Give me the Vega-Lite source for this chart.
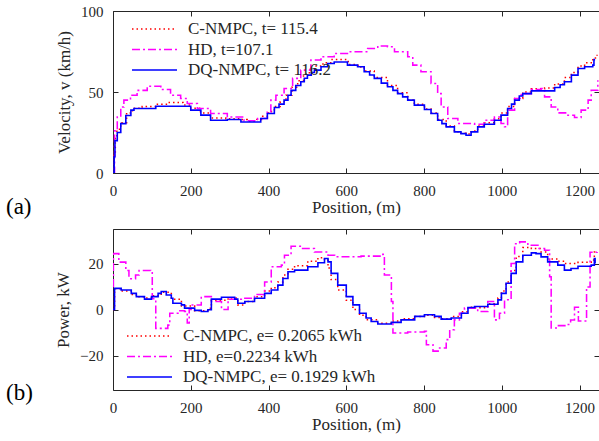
{
  "$schema": "https://vega.github.io/schema/vega-lite/v6.json",
  "padding": {"left": 5, "top": 3, "right": 1, "bottom": 2},
  "background": "white",
  "config": {
    "font": "Liberation Serif",
    "view": {"stroke": "#262626", "strokeWidth": 1},
    "style": {"guide-label": {"font": "Liberation Serif", "fontSize": 15, "fill": "#262626"}, "guide-title": {"font": "Liberation Serif", "fontSize": 17, "fontWeight": "normal", "fill": "#262626"}},
    "legend": {"labelFont": "Liberation Serif", "labelFontSize": 17, "labelColor": "#262626", "labelLimit": 400, "symbolType": "M-5,0H5", "symbolSize": 81, "symbolStrokeWidth": 1.6, "labelOffset": 25, "padding": 0, "rowPadding": 2.5},
    "concat": {"spacing": 8},
    "title": {"font": "Liberation Serif", "fontSize": 23, "fontWeight": "normal", "color": "#000000"}
  },
  "datasets": {
    "vel": [
      {"s": "C-NMPC", "x": 0, "y": 0}, {"s": "C-NMPC", "x": 3, "y": 12}, {"s": "C-NMPC", "x": 6, "y": 22}, {"s": "C-NMPC", "x": 10, "y": 27}, {"s": "C-NMPC", "x": 20, "y": 31}, {"s": "C-NMPC", "x": 35, "y": 37}, {"s": "C-NMPC", "x": 50, "y": 40}, {"s": "C-NMPC", "x": 75, "y": 41}, {"s": "C-NMPC", "x": 110, "y": 42.5}, {"s": "C-NMPC", "x": 140, "y": 43.5}, {"s": "C-NMPC", "x": 180, "y": 42}, {"s": "C-NMPC", "x": 200, "y": 40}, {"s": "C-NMPC", "x": 225, "y": 37}, {"s": "C-NMPC", "x": 250, "y": 34}, {"s": "C-NMPC", "x": 290, "y": 33.5}, {"s": "C-NMPC", "x": 325, "y": 33}, {"s": "C-NMPC", "x": 345, "y": 32}, {"s": "C-NMPC", "x": 370, "y": 33}, {"s": "C-NMPC", "x": 385, "y": 35}, {"s": "C-NMPC", "x": 400, "y": 38}, {"s": "C-NMPC", "x": 415, "y": 41}, {"s": "C-NMPC", "x": 430, "y": 44}, {"s": "C-NMPC", "x": 445, "y": 48}, {"s": "C-NMPC", "x": 460, "y": 53}, {"s": "C-NMPC", "x": 475, "y": 57}, {"s": "C-NMPC", "x": 490, "y": 61}, {"s": "C-NMPC", "x": 505, "y": 64}, {"s": "C-NMPC", "x": 520, "y": 66}, {"s": "C-NMPC", "x": 540, "y": 68}, {"s": "C-NMPC", "x": 560, "y": 70}, {"s": "C-NMPC", "x": 595, "y": 70}, {"s": "C-NMPC", "x": 605, "y": 67}, {"s": "C-NMPC", "x": 630, "y": 65.5}, {"s": "C-NMPC", "x": 646, "y": 63}, {"s": "C-NMPC", "x": 672, "y": 59}, {"s": "C-NMPC", "x": 706, "y": 54}, {"s": "C-NMPC", "x": 732, "y": 49.5}, {"s": "C-NMPC", "x": 758, "y": 45}, {"s": "C-NMPC", "x": 775, "y": 42.5}, {"s": "C-NMPC", "x": 801, "y": 39.5}, {"s": "C-NMPC", "x": 818, "y": 37}, {"s": "C-NMPC", "x": 835, "y": 33}, {"s": "C-NMPC", "x": 857, "y": 29}, {"s": "C-NMPC", "x": 878, "y": 25.5}, {"s": "C-NMPC", "x": 895, "y": 24.5}, {"s": "C-NMPC", "x": 908, "y": 24}, {"s": "C-NMPC", "x": 921, "y": 26}, {"s": "C-NMPC", "x": 938, "y": 29}, {"s": "C-NMPC", "x": 955, "y": 31}, {"s": "C-NMPC", "x": 981, "y": 33.5}, {"s": "C-NMPC", "x": 998, "y": 37}, {"s": "C-NMPC", "x": 1015, "y": 41}, {"s": "C-NMPC", "x": 1033, "y": 46}, {"s": "C-NMPC", "x": 1054, "y": 50}, {"s": "C-NMPC", "x": 1076, "y": 52}, {"s": "C-NMPC", "x": 1110, "y": 52.5}, {"s": "C-NMPC", "x": 1136, "y": 55}, {"s": "C-NMPC", "x": 1161, "y": 59}, {"s": "C-NMPC", "x": 1179, "y": 62}, {"s": "C-NMPC", "x": 1196, "y": 66}, {"s": "C-NMPC", "x": 1213, "y": 68}, {"s": "C-NMPC", "x": 1234, "y": 71}, {"s": "C-NMPC", "x": 1245, "y": 73},
      {"s": "HD", "x": 0, "y": 0}, {"s": "HD", "x": 4, "y": 26}, {"s": "HD", "x": 11, "y": 34.6}, {"s": "HD", "x": 20, "y": 40.8}, {"s": "HD", "x": 28, "y": 45}, {"s": "HD", "x": 45, "y": 48}, {"s": "HD", "x": 62, "y": 51}, {"s": "HD", "x": 88, "y": 53.6}, {"s": "HD", "x": 114, "y": 53.6}, {"s": "HD", "x": 123, "y": 51.5}, {"s": "HD", "x": 148, "y": 48}, {"s": "HD", "x": 174, "y": 46}, {"s": "HD", "x": 191, "y": 42.9}, {"s": "HD", "x": 217, "y": 39.8}, {"s": "HD", "x": 251, "y": 36.7}, {"s": "HD", "x": 294, "y": 34.6}, {"s": "HD", "x": 337, "y": 32.2}, {"s": "HD", "x": 372, "y": 33.6}, {"s": "HD", "x": 397, "y": 37.7}, {"s": "HD", "x": 406, "y": 45}, {"s": "HD", "x": 419, "y": 48}, {"s": "HD", "x": 440, "y": 52.2}, {"s": "HD", "x": 462, "y": 58.4}, {"s": "HD", "x": 483, "y": 63.5}, {"s": "HD", "x": 509, "y": 69.7}, {"s": "HD", "x": 535, "y": 71.8}, {"s": "HD", "x": 569, "y": 73.8}, {"s": "HD", "x": 603, "y": 74.8}, {"s": "HD", "x": 655, "y": 76.9}, {"s": "HD", "x": 681, "y": 78.4}, {"s": "HD", "x": 706, "y": 77.9}, {"s": "HD", "x": 724, "y": 74.8}, {"s": "HD", "x": 758, "y": 71.8}, {"s": "HD", "x": 771, "y": 66.6}, {"s": "HD", "x": 792, "y": 62.5}, {"s": "HD", "x": 818, "y": 55.3}, {"s": "HD", "x": 835, "y": 49}, {"s": "HD", "x": 844, "y": 40.8}, {"s": "HD", "x": 861, "y": 33.6}, {"s": "HD", "x": 887, "y": 30.5}, {"s": "HD", "x": 930, "y": 30.1}, {"s": "HD", "x": 955, "y": 32.6}, {"s": "HD", "x": 981, "y": 34.6}, {"s": "HD", "x": 998, "y": 30.5}, {"s": "HD", "x": 1007, "y": 28.5}, {"s": "HD", "x": 1015, "y": 38.8}, {"s": "HD", "x": 1033, "y": 46}, {"s": "HD", "x": 1050, "y": 49}, {"s": "HD", "x": 1076, "y": 51.5}, {"s": "HD", "x": 1101, "y": 52.2}, {"s": "HD", "x": 1110, "y": 47}, {"s": "HD", "x": 1127, "y": 40.8}, {"s": "HD", "x": 1144, "y": 37.1}, {"s": "HD", "x": 1170, "y": 35.7}, {"s": "HD", "x": 1187, "y": 34.2}, {"s": "HD", "x": 1204, "y": 38.8}, {"s": "HD", "x": 1222, "y": 45}, {"s": "HD", "x": 1230, "y": 51.1}, {"s": "HD", "x": 1247, "y": 57.3},
      {"s": "DQ-NMPC", "x": 0, "y": 0}, {"s": "DQ-NMPC", "x": 3, "y": 10}, {"s": "DQ-NMPC", "x": 5, "y": 20}, {"s": "DQ-NMPC", "x": 11, "y": 25}, {"s": "DQ-NMPC", "x": 20, "y": 30.5}, {"s": "DQ-NMPC", "x": 33, "y": 35.5}, {"s": "DQ-NMPC", "x": 46, "y": 38.8}, {"s": "DQ-NMPC", "x": 54, "y": 39.8}, {"s": "DQ-NMPC", "x": 110, "y": 41.2}, {"s": "DQ-NMPC", "x": 183, "y": 41.2}, {"s": "DQ-NMPC", "x": 200, "y": 38.8}, {"s": "DQ-NMPC", "x": 226, "y": 35.7}, {"s": "DQ-NMPC", "x": 251, "y": 32.6}, {"s": "DQ-NMPC", "x": 294, "y": 33}, {"s": "DQ-NMPC", "x": 324, "y": 33}, {"s": "DQ-NMPC", "x": 329, "y": 31.5}, {"s": "DQ-NMPC", "x": 363, "y": 31.5}, {"s": "DQ-NMPC", "x": 380, "y": 33.6}, {"s": "DQ-NMPC", "x": 397, "y": 36.7}, {"s": "DQ-NMPC", "x": 415, "y": 40.4}, {"s": "DQ-NMPC", "x": 427, "y": 42.5}, {"s": "DQ-NMPC", "x": 440, "y": 45}, {"s": "DQ-NMPC", "x": 450, "y": 48}, {"s": "DQ-NMPC", "x": 458, "y": 51}, {"s": "DQ-NMPC", "x": 470, "y": 54}, {"s": "DQ-NMPC", "x": 483, "y": 56.3}, {"s": "DQ-NMPC", "x": 492, "y": 58.5}, {"s": "DQ-NMPC", "x": 500, "y": 60.4}, {"s": "DQ-NMPC", "x": 510, "y": 62}, {"s": "DQ-NMPC", "x": 518, "y": 63.5}, {"s": "DQ-NMPC", "x": 535, "y": 65.6}, {"s": "DQ-NMPC", "x": 552, "y": 67.6}, {"s": "DQ-NMPC", "x": 569, "y": 68.5}, {"s": "DQ-NMPC", "x": 595, "y": 68.5}, {"s": "DQ-NMPC", "x": 603, "y": 66.6}, {"s": "DQ-NMPC", "x": 629, "y": 65.6}, {"s": "DQ-NMPC", "x": 646, "y": 62.5}, {"s": "DQ-NMPC", "x": 660, "y": 60.5}, {"s": "DQ-NMPC", "x": 672, "y": 58.4}, {"s": "DQ-NMPC", "x": 690, "y": 55.5}, {"s": "DQ-NMPC", "x": 706, "y": 53.2}, {"s": "DQ-NMPC", "x": 720, "y": 51}, {"s": "DQ-NMPC", "x": 732, "y": 49}, {"s": "DQ-NMPC", "x": 745, "y": 47}, {"s": "DQ-NMPC", "x": 758, "y": 45}, {"s": "DQ-NMPC", "x": 775, "y": 41.9}, {"s": "DQ-NMPC", "x": 801, "y": 39.2}, {"s": "DQ-NMPC", "x": 818, "y": 36.7}, {"s": "DQ-NMPC", "x": 835, "y": 32.6}, {"s": "DQ-NMPC", "x": 846, "y": 30.5}, {"s": "DQ-NMPC", "x": 857, "y": 28.5}, {"s": "DQ-NMPC", "x": 878, "y": 25.4}, {"s": "DQ-NMPC", "x": 895, "y": 24.3}, {"s": "DQ-NMPC", "x": 908, "y": 23.3}, {"s": "DQ-NMPC", "x": 921, "y": 25.4}, {"s": "DQ-NMPC", "x": 938, "y": 28.5}, {"s": "DQ-NMPC", "x": 955, "y": 30.1}, {"s": "DQ-NMPC", "x": 981, "y": 32.6}, {"s": "DQ-NMPC", "x": 998, "y": 35.7}, {"s": "DQ-NMPC", "x": 1015, "y": 39.8}, {"s": "DQ-NMPC", "x": 1025, "y": 42.5}, {"s": "DQ-NMPC", "x": 1033, "y": 45}, {"s": "DQ-NMPC", "x": 1045, "y": 47.5}, {"s": "DQ-NMPC", "x": 1054, "y": 49}, {"s": "DQ-NMPC", "x": 1076, "y": 50.7}, {"s": "DQ-NMPC", "x": 1110, "y": 50.7}, {"s": "DQ-NMPC", "x": 1136, "y": 52.8}, {"s": "DQ-NMPC", "x": 1150, "y": 54.5}, {"s": "DQ-NMPC", "x": 1161, "y": 56.3}, {"s": "DQ-NMPC", "x": 1179, "y": 60.4}, {"s": "DQ-NMPC", "x": 1196, "y": 64.5}, {"s": "DQ-NMPC", "x": 1213, "y": 65.6}, {"s": "DQ-NMPC", "x": 1234, "y": 66.6}, {"s": "DQ-NMPC", "x": 1237, "y": 70}, {"s": "DQ-NMPC", "x": 1240, "y": 70}
    ],
    "pow": [
      {"s": "C-NMPC", "x": 0, "y": 0}, {"s": "C-NMPC", "x": 4, "y": 9}, {"s": "C-NMPC", "x": 21, "y": 8}, {"s": "C-NMPC", "x": 47, "y": 6.5}, {"s": "C-NMPC", "x": 60, "y": 5.5}, {"s": "C-NMPC", "x": 81, "y": 5}, {"s": "C-NMPC", "x": 99, "y": 6}, {"s": "C-NMPC", "x": 124, "y": 7.5}, {"s": "C-NMPC", "x": 150, "y": 4.5}, {"s": "C-NMPC", "x": 176, "y": 1.5}, {"s": "C-NMPC", "x": 210, "y": -0.5}, {"s": "C-NMPC", "x": 244, "y": 0.5}, {"s": "C-NMPC", "x": 253, "y": 4}, {"s": "C-NMPC", "x": 296, "y": 5}, {"s": "C-NMPC", "x": 321, "y": 2}, {"s": "C-NMPC", "x": 339, "y": 3.5}, {"s": "C-NMPC", "x": 364, "y": 5.5}, {"s": "C-NMPC", "x": 390, "y": 8}, {"s": "C-NMPC", "x": 407, "y": 9.5}, {"s": "C-NMPC", "x": 424, "y": 12}, {"s": "C-NMPC", "x": 437, "y": 15}, {"s": "C-NMPC", "x": 450, "y": 17.5}, {"s": "C-NMPC", "x": 467, "y": 19}, {"s": "C-NMPC", "x": 501, "y": 21}, {"s": "C-NMPC", "x": 527, "y": 22.5}, {"s": "C-NMPC", "x": 544, "y": 21.5}, {"s": "C-NMPC", "x": 553, "y": 18}, {"s": "C-NMPC", "x": 561, "y": 13}, {"s": "C-NMPC", "x": 578, "y": 8.5}, {"s": "C-NMPC", "x": 600, "y": 4}, {"s": "C-NMPC", "x": 617, "y": 0}, {"s": "C-NMPC", "x": 634, "y": -2.5}, {"s": "C-NMPC", "x": 651, "y": -4.5}, {"s": "C-NMPC", "x": 681, "y": -6}, {"s": "C-NMPC", "x": 716, "y": -5}, {"s": "C-NMPC", "x": 741, "y": -4}, {"s": "C-NMPC", "x": 776, "y": -3}, {"s": "C-NMPC", "x": 801, "y": -2.5}, {"s": "C-NMPC", "x": 827, "y": -3.5}, {"s": "C-NMPC", "x": 844, "y": -4}, {"s": "C-NMPC", "x": 870, "y": -3}, {"s": "C-NMPC", "x": 896, "y": -1}, {"s": "C-NMPC", "x": 913, "y": 1}, {"s": "C-NMPC", "x": 930, "y": 0.8}, {"s": "C-NMPC", "x": 964, "y": 2.5}, {"s": "C-NMPC", "x": 990, "y": 5}, {"s": "C-NMPC", "x": 999, "y": 8}, {"s": "C-NMPC", "x": 1011, "y": 12}, {"s": "C-NMPC", "x": 1024, "y": 17}, {"s": "C-NMPC", "x": 1037, "y": 23}, {"s": "C-NMPC", "x": 1054, "y": 27}, {"s": "C-NMPC", "x": 1076, "y": 26.5}, {"s": "C-NMPC", "x": 1101, "y": 25}, {"s": "C-NMPC", "x": 1118, "y": 22}, {"s": "C-NMPC", "x": 1144, "y": 21}, {"s": "C-NMPC", "x": 1161, "y": 20}, {"s": "C-NMPC", "x": 1196, "y": 20.5}, {"s": "C-NMPC", "x": 1230, "y": 21.5}, {"s": "C-NMPC", "x": 1238, "y": 25}, {"s": "C-NMPC", "x": 1245, "y": 25},
      {"s": "HD", "x": 0, "y": 10}, {"s": "HD", "x": 1, "y": 24.3}, {"s": "HD", "x": 15, "y": 20.6}, {"s": "HD", "x": 33, "y": 17}, {"s": "HD", "x": 41, "y": 13.4}, {"s": "HD", "x": 58, "y": 15}, {"s": "HD", "x": 67, "y": 17}, {"s": "HD", "x": 97, "y": 16.4}, {"s": "HD", "x": 101, "y": 4.7}, {"s": "HD", "x": 110, "y": -8.2}, {"s": "HD", "x": 141, "y": -6.8}, {"s": "HD", "x": 146, "y": -1.6}, {"s": "HD", "x": 167, "y": -0.5}, {"s": "HD", "x": 184, "y": -0.9}, {"s": "HD", "x": 191, "y": -5.9}, {"s": "HD", "x": 196, "y": 0}, {"s": "HD", "x": 201, "y": 2}, {"s": "HD", "x": 227, "y": 5.6}, {"s": "HD", "x": 253, "y": 3.5}, {"s": "HD", "x": 279, "y": 0}, {"s": "HD", "x": 296, "y": 4.5}, {"s": "HD", "x": 330, "y": 4.9}, {"s": "HD", "x": 364, "y": 6.5}, {"s": "HD", "x": 390, "y": 12}, {"s": "HD", "x": 407, "y": 18.6}, {"s": "HD", "x": 433, "y": 19.3}, {"s": "HD", "x": 441, "y": 23.6}, {"s": "HD", "x": 458, "y": 27.5}, {"s": "HD", "x": 484, "y": 26.5}, {"s": "HD", "x": 518, "y": 25}, {"s": "HD", "x": 553, "y": 23.6}, {"s": "HD", "x": 570, "y": 22.9}, {"s": "HD", "x": 638, "y": 23.2}, {"s": "HD", "x": 694, "y": 24}, {"s": "HD", "x": 698, "y": 15}, {"s": "HD", "x": 716, "y": 3.5}, {"s": "HD", "x": 720, "y": -10.2}, {"s": "HD", "x": 758, "y": -9.8}, {"s": "HD", "x": 801, "y": -9.5}, {"s": "HD", "x": 806, "y": -15.3}, {"s": "HD", "x": 823, "y": -18.1}, {"s": "HD", "x": 840, "y": -16.7}, {"s": "HD", "x": 857, "y": -13.1}, {"s": "HD", "x": 866, "y": -8.8}, {"s": "HD", "x": 878, "y": -4.5}, {"s": "HD", "x": 891, "y": -1.6}, {"s": "HD", "x": 904, "y": 0.6}, {"s": "HD", "x": 938, "y": -0.9}, {"s": "HD", "x": 964, "y": 3.5}, {"s": "HD", "x": 981, "y": -4.5}, {"s": "HD", "x": 994, "y": -1.6}, {"s": "HD", "x": 1007, "y": 4.2}, {"s": "HD", "x": 1024, "y": 20}, {"s": "HD", "x": 1033, "y": 28.6}, {"s": "HD", "x": 1046, "y": 29.4}, {"s": "HD", "x": 1067, "y": 27.9}, {"s": "HD", "x": 1093, "y": 26.5}, {"s": "HD", "x": 1110, "y": 25.8}, {"s": "HD", "x": 1123, "y": 14.2}, {"s": "HD", "x": 1127, "y": -8}, {"s": "HD", "x": 1140, "y": -7}, {"s": "HD", "x": 1171, "y": -6.5}, {"s": "HD", "x": 1177, "y": -4.6}, {"s": "HD", "x": 1187, "y": 1}, {"s": "HD", "x": 1197, "y": -5}, {"s": "HD", "x": 1212, "y": -5}, {"s": "HD", "x": 1218, "y": 9.8}, {"s": "HD", "x": 1227, "y": 24.9}, {"s": "HD", "x": 1245, "y": 25},
      {"s": "DQ-NMPC", "x": 0, "y": 0}, {"s": "DQ-NMPC", "x": 4, "y": 9.2}, {"s": "DQ-NMPC", "x": 21, "y": 8.5}, {"s": "DQ-NMPC", "x": 47, "y": 7}, {"s": "DQ-NMPC", "x": 60, "y": 5.6}, {"s": "DQ-NMPC", "x": 81, "y": 4.5}, {"s": "DQ-NMPC", "x": 99, "y": 5.6}, {"s": "DQ-NMPC", "x": 116, "y": 7}, {"s": "DQ-NMPC", "x": 124, "y": 7.8}, {"s": "DQ-NMPC", "x": 137, "y": 6.3}, {"s": "DQ-NMPC", "x": 150, "y": 4.9}, {"s": "DQ-NMPC", "x": 154, "y": 2.7}, {"s": "DQ-NMPC", "x": 176, "y": 2}, {"s": "DQ-NMPC", "x": 184, "y": 0.6}, {"s": "DQ-NMPC", "x": 210, "y": -0.4}, {"s": "DQ-NMPC", "x": 227, "y": -0.9}, {"s": "DQ-NMPC", "x": 244, "y": -0.1}, {"s": "DQ-NMPC", "x": 253, "y": 4.5}, {"s": "DQ-NMPC", "x": 279, "y": 5.3}, {"s": "DQ-NMPC", "x": 296, "y": 5.3}, {"s": "DQ-NMPC", "x": 313, "y": 4.5}, {"s": "DQ-NMPC", "x": 321, "y": 2.7}, {"s": "DQ-NMPC", "x": 339, "y": 3.5}, {"s": "DQ-NMPC", "x": 364, "y": 4.9}, {"s": "DQ-NMPC", "x": 390, "y": 7}, {"s": "DQ-NMPC", "x": 407, "y": 8.5}, {"s": "DQ-NMPC", "x": 424, "y": 10.6}, {"s": "DQ-NMPC", "x": 437, "y": 13.5}, {"s": "DQ-NMPC", "x": 450, "y": 16.4}, {"s": "DQ-NMPC", "x": 467, "y": 17.1}, {"s": "DQ-NMPC", "x": 501, "y": 18.6}, {"s": "DQ-NMPC", "x": 527, "y": 20.3}, {"s": "DQ-NMPC", "x": 544, "y": 22.2}, {"s": "DQ-NMPC", "x": 553, "y": 20.7}, {"s": "DQ-NMPC", "x": 561, "y": 15.7}, {"s": "DQ-NMPC", "x": 578, "y": 10.6}, {"s": "DQ-NMPC", "x": 600, "y": 5.6}, {"s": "DQ-NMPC", "x": 617, "y": 2}, {"s": "DQ-NMPC", "x": 634, "y": -1.6}, {"s": "DQ-NMPC", "x": 651, "y": -3.7}, {"s": "DQ-NMPC", "x": 664, "y": -5.2}, {"s": "DQ-NMPC", "x": 681, "y": -6.3}, {"s": "DQ-NMPC", "x": 716, "y": -5.6}, {"s": "DQ-NMPC", "x": 741, "y": -4.5}, {"s": "DQ-NMPC", "x": 776, "y": -3}, {"s": "DQ-NMPC", "x": 801, "y": -2.3}, {"s": "DQ-NMPC", "x": 827, "y": -3}, {"s": "DQ-NMPC", "x": 844, "y": -4.2}, {"s": "DQ-NMPC", "x": 870, "y": -3.7}, {"s": "DQ-NMPC", "x": 896, "y": -1.6}, {"s": "DQ-NMPC", "x": 913, "y": 0.9}, {"s": "DQ-NMPC", "x": 930, "y": 1.3}, {"s": "DQ-NMPC", "x": 964, "y": 2.3}, {"s": "DQ-NMPC", "x": 990, "y": 4.2}, {"s": "DQ-NMPC", "x": 999, "y": 7}, {"s": "DQ-NMPC", "x": 1011, "y": 11.4}, {"s": "DQ-NMPC", "x": 1024, "y": 15.7}, {"s": "DQ-NMPC", "x": 1037, "y": 20.7}, {"s": "DQ-NMPC", "x": 1054, "y": 23.6}, {"s": "DQ-NMPC", "x": 1076, "y": 24.6}, {"s": "DQ-NMPC", "x": 1088, "y": 24.3}, {"s": "DQ-NMPC", "x": 1101, "y": 22.9}, {"s": "DQ-NMPC", "x": 1118, "y": 20.7}, {"s": "DQ-NMPC", "x": 1144, "y": 19.3}, {"s": "DQ-NMPC", "x": 1161, "y": 17.1}, {"s": "DQ-NMPC", "x": 1178, "y": 17.8}, {"s": "DQ-NMPC", "x": 1196, "y": 18.8}, {"s": "DQ-NMPC", "x": 1230, "y": 19.3}, {"s": "DQ-NMPC", "x": 1238, "y": 22.2}, {"s": "DQ-NMPC", "x": 1240, "y": 20}
    ]
  },
  "vconcat": [
    {
      "width": 486, "height": 162,
      "title": {"text": "(a)", "orient": "bottom", "anchor": "start", "frame": "group", "dx": -107, "offset": -19},
      "data": {"name": "vel"},
      "layer": [
        {
          "mark": {"type": "line", "interpolate": "step-after", "clip": true},
          "encoding": {
            "x": {"field": "x", "type": "quantitative", "scale": {"domain": [0, 1250], "nice": false}, "axis": {"title": "Position, (m)", "values": [0, 200, 400, 600, 800, 1000, 1200], "format": "d", "labelFont": "Liberation Serif", "labelFontSize": 15, "titleFont": "Liberation Serif", "titleFontSize": 17, "titleFontWeight": "normal", "labelColor": "#262626", "titleColor": "#262626", "domain": false, "grid": false, "tickSize": -5, "tickColor": "#262626", "labelPadding": 15, "titlePadding": 1, "labelFlush": false}},
            "y": {"field": "y", "type": "quantitative", "scale": {"domain": [0, 100], "nice": false}, "axis": {"title": "Velocity, v (km/h)", "values": [0, 50, 100], "labelFont": "Liberation Serif", "labelFontSize": 15, "titleFont": "Liberation Serif", "titleFontSize": 17, "titleFontWeight": "normal", "labelColor": "#262626", "titleColor": "#262626", "domain": false, "grid": false, "tickSize": -5, "tickColor": "#262626", "labelPadding": 15, "titlePadding": 7, "labelFlush": false}},
            "color": {"field": "s", "type": "nominal", "scale": {"domain": ["C-NMPC", "HD", "DQ-NMPC"], "range": ["#ff0000", "#ff00ff", "#0000ff"]}, "legend": {"title": null, "orient": "none", "legendX": 33, "legendY": 9.5, "labelExpr": "datum.label == 'C-NMPC' ? 'C-NMPC, t= 115.4' : datum.label == 'HD' ? 'HD, t=107.1' : 'DQ-NMPC, t= 116.2'"}},
            "strokeDash": {"field": "s", "type": "nominal", "scale": {"domain": ["C-NMPC", "HD", "DQ-NMPC"], "range": [[1.5, 3], [8, 3, 2, 3], [1, 0]]}, "legend": {"title": null, "orient": "none", "legendX": 33, "legendY": 9.5, "labelExpr": "datum.label == 'C-NMPC' ? 'C-NMPC, t= 115.4' : datum.label == 'HD' ? 'HD, t=107.1' : 'DQ-NMPC, t= 116.2'"}},
            "strokeWidth": {"field": "s", "type": "nominal", "scale": {"domain": ["C-NMPC", "HD", "DQ-NMPC"], "range": [1.5, 1.6, 2]}, "legend": null}
          }
        },
        {
          "mark": {"type": "point", "opacity": 0},
          "encoding": {
            "x": {"field": "x", "type": "quantitative", "axis": {"orient": "top", "labels": false, "title": null, "values": [0, 200, 400, 600, 800, 1000, 1200], "domain": false, "grid": false, "tickSize": -5, "tickColor": "#262626"}},
            "y": {"field": "y", "type": "quantitative", "axis": {"orient": "right", "labels": false, "title": null, "values": [0, 50, 100], "domain": false, "grid": false, "tickSize": -5, "tickColor": "#262626"}}
          }
        }
      ],
      "resolve": {"axis": {"x": "independent", "y": "independent"}}
    },
    {
      "width": 486, "height": 161,
      "title": {"text": "(b)", "orient": "bottom", "anchor": "start", "frame": "group", "dx": -107, "offset": -50},
      "data": {"name": "pow"},
      "layer": [
        {
          "mark": {"type": "line", "interpolate": "step-after", "clip": true},
          "encoding": {
            "x": {"field": "x", "type": "quantitative", "scale": {"domain": [0, 1250], "nice": false}, "axis": {"title": "Position, (m)", "values": [0, 200, 400, 600, 800, 1000, 1200], "format": "d", "labelFont": "Liberation Serif", "labelFontSize": 15, "titleFont": "Liberation Serif", "titleFontSize": 17, "titleFontWeight": "normal", "labelColor": "#262626", "titleColor": "#262626", "domain": false, "grid": false, "tickSize": -5, "tickColor": "#262626", "labelPadding": 15, "titlePadding": 1, "labelFlush": false}},
            "y": {"field": "y", "type": "quantitative", "scale": {"domain": [-35, 35], "nice": false}, "axis": {"title": "Power, kW", "values": [-20, 0, 20], "labelFont": "Liberation Serif", "labelFontSize": 15, "titleFont": "Liberation Serif", "titleFontSize": 17, "titleFontWeight": "normal", "labelColor": "#262626", "titleColor": "#262626", "domain": false, "grid": false, "tickSize": -5, "tickColor": "#262626", "labelPadding": 15, "titlePadding": 7, "labelFlush": false}},
            "color": {"field": "s", "type": "nominal", "scale": {"domain": ["C-NMPC", "HD", "DQ-NMPC"], "range": ["#ff0000", "#ff00ff", "#0000ff"]}, "legend": {"title": null, "orient": "none", "legendX": 28, "legendY": 98.5, "labelExpr": "datum.label == 'C-NMPC' ? 'C-NMPC, e= 0.2065 kWh' : datum.label == 'HD' ? 'HD, e=0.2234 kWh' : 'DQ-NMPC, e= 0.1929 kWh'"}},
            "strokeDash": {"field": "s", "type": "nominal", "scale": {"domain": ["C-NMPC", "HD", "DQ-NMPC"], "range": [[1.5, 3], [8, 3, 2, 3], [1, 0]]}, "legend": {"title": null, "orient": "none", "legendX": 28, "legendY": 98.5, "labelExpr": "datum.label == 'C-NMPC' ? 'C-NMPC, e= 0.2065 kWh' : datum.label == 'HD' ? 'HD, e=0.2234 kWh' : 'DQ-NMPC, e= 0.1929 kWh'"}},
            "strokeWidth": {"field": "s", "type": "nominal", "scale": {"domain": ["C-NMPC", "HD", "DQ-NMPC"], "range": [1.5, 1.6, 2]}, "legend": null}
          }
        },
        {
          "mark": {"type": "point", "opacity": 0},
          "encoding": {
            "x": {"field": "x", "type": "quantitative", "axis": {"orient": "top", "labels": false, "title": null, "values": [0, 200, 400, 600, 800, 1000, 1200], "domain": false, "grid": false, "tickSize": -5, "tickColor": "#262626"}},
            "y": {"field": "y", "type": "quantitative", "axis": {"orient": "right", "labels": false, "title": null, "values": [-20, 0, 20], "domain": false, "grid": false, "tickSize": -5, "tickColor": "#262626"}}
          }
        }
      ],
      "resolve": {"axis": {"x": "independent", "y": "independent"}}
    }
  ],
  "resolve": {"scale": {"color": "independent", "strokeDash": "independent", "strokeWidth": "independent"}, "legend": {"color": "independent", "strokeDash": "independent"}}
}
